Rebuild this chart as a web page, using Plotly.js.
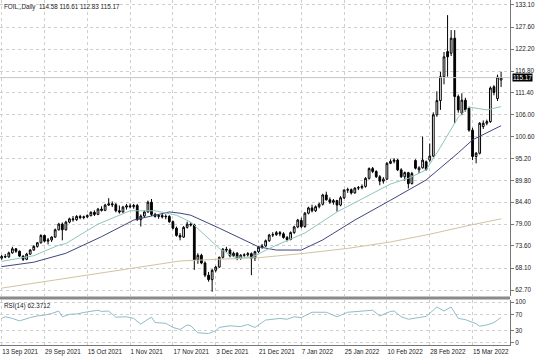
<!DOCTYPE html>
<html><head><meta charset="utf-8">
<script src="https://cdn.plot.ly/plotly-3.0.1.min.js"></script>
<style>html,body{margin:0;padding:0;background:#fff;}#chart{width:536px;height:357px;}</style>
</head><body><div id="chart"></div>
<script>
const symbolTitle = "FOIL,,Daily  114.58 116.61 112.83 115.17";
const rsiTitle = "RSI(14) 62.3712";
const lastPrice = 115.17;

const dateLabels = ["13 Sep 2021","29 Sep 2021","15 Oct 2021","1 Nov 2021","17 Nov 2021","3 Dec 2021","21 Dec 2021","7 Jan 2022","25 Jan 2022","10 Feb 2022","28 Feb 2022","15 Mar 2022"];
const dateLabelBars = [0,12,24,36,48,60,72,84,96,108,120,132];

const priceTicks = [133.10,127.60,122.20,116.80,111.40,106.00,100.60,95.20,89.80,84.40,79.00,73.60,68.10,62.70];
const rsiTicks = [100,70,30,0];

const opens = [70.6,71.0,70.9,71.9,72.9,72.3,71.1,70.3,71.6,72.6,73.5,74.4,76.2,74.8,75.1,75.8,77.6,79.0,77.6,79.5,
80.3,80.1,80.9,80.6,80.8,81.1,81.9,81.4,82.7,82.4,83.7,84.0,83.8,82.3,82.0,83.2,83.5,83.3,83.6,80.1,
81.0,82.0,84.4,81.4,80.9,81.1,80.8,80.9,79.6,78.0,76.2,75.8,78.2,79.0,78.8,70.2,71.3,69.4,66.4,65.3,
67.6,68.4,70.8,72.8,72.6,71.2,71.8,70.5,71.3,71.4,71.7,70.6,72.2,73.3,73.6,74.9,76.3,76.4,76.9,76.6,
75.7,75.2,76.9,78.3,79.9,78.4,81.7,83.0,82.3,83.3,83.9,86.2,85.0,84.4,84.8,83.7,85.5,87.4,87.5,86.7,
87.9,88.0,88.3,90.3,92.7,92.0,90.7,89.6,90.1,94.0,94.5,94.8,92.4,90.7,91.7,89.0,94.7,92.4,92.9,94.4,
94.8,95.8,106.0,109.5,115.4,121.6,121.2,124.9,110.5,106.4,109.6,107.6,102.2,95.7,96.5,103.1,103.9,104.3,112.9,110.0,
114.58];
const highs = [71.4,71.6,72.2,73.4,73.1,72.5,71.3,71.9,72.8,73.8,74.6,76.5,76.4,75.6,76.0,77.9,79.3,79.4,79.8,80.6,
81.0,81.2,81.3,81.1,81.4,82.2,82.4,83.0,83.4,84.0,85.4,84.6,84.2,83.6,83.5,84.0,84.1,84.0,84.0,81.4,
82.4,84.8,85.2,81.8,81.5,81.6,81.4,81.2,79.9,78.4,76.8,78.5,79.6,79.4,79.1,71.8,71.7,69.8,67.2,67.9,
68.7,71.0,73.1,73.4,73.0,72.2,72.1,71.6,71.8,72.1,72.0,72.4,73.6,74.1,75.2,76.6,77.0,77.3,77.3,77.0,
76.1,77.2,78.6,80.3,80.6,82.0,83.3,83.8,83.6,84.3,86.5,87.0,85.6,85.2,85.0,85.9,87.6,88.0,87.8,88.1,
88.4,88.8,90.6,93.0,93.1,92.3,91.1,90.6,94.3,95.0,95.3,95.1,92.8,92.0,91.9,91.9,95.0,93.3,100.6,94.7,
98.9,106.6,111.8,116.6,121.5,130.6,126.9,126.9,111.0,111.3,110.2,108.0,102.8,96.8,104.2,104.6,104.8,113.0,113.3,115.9,
116.61];
const lows = [70.2,70.6,70.7,71.7,71.9,70.9,69.9,70.1,71.4,72.4,73.2,74.2,74.5,74.0,74.6,75.6,77.4,75.0,77.4,79.2,
79.6,79.8,80.2,80.2,80.5,80.9,81.0,81.2,82.1,82.2,83.5,83.2,81.9,81.6,81.8,82.6,82.9,82.8,79.8,78.4,
80.6,81.8,81.0,80.6,80.3,80.4,80.2,79.3,77.7,75.9,75.0,75.6,77.9,78.4,67.7,69.2,69.1,65.9,64.8,62.3,
67.1,68.2,70.5,72.1,70.8,70.9,70.1,70.2,70.9,71.0,66.4,69.9,71.9,72.9,73.4,74.6,75.8,76.1,76.0,75.4,
74.7,75.0,76.6,78.0,78.0,78.1,81.4,81.9,82.0,82.9,83.6,84.8,84.0,83.8,82.1,83.4,85.2,86.7,86.3,86.5,
87.4,87.6,88.0,90.0,91.6,90.4,88.6,89.0,89.9,93.8,94.0,92.1,90.4,89.7,87.8,88.8,92.5,91.6,92.7,92.2,
94.4,95.5,105.5,107.2,113.5,115.4,120.5,103.9,106.5,105.9,106.8,101.8,94.8,94.0,96.2,102.5,103.4,104.0,110.8,109.4,
112.83];
const closes = [71.0,70.9,71.9,72.9,72.3,71.1,70.3,71.6,72.6,73.5,74.4,76.2,74.8,75.1,75.8,77.6,79.0,77.6,79.5,80.3,
80.1,80.9,80.6,80.8,81.1,81.9,81.4,82.7,82.4,83.7,84.0,83.8,82.3,82.0,83.2,83.5,83.3,83.6,80.1,81.0,
82.0,84.4,81.4,80.9,81.1,80.8,80.9,79.6,78.0,76.2,75.8,78.2,79.0,78.8,70.2,71.3,69.4,66.4,65.3,67.6,
68.4,70.8,72.8,72.6,71.2,71.8,70.5,71.3,71.4,71.7,70.6,72.2,73.3,73.6,74.9,76.3,76.4,76.9,76.6,75.7,
75.2,76.9,78.3,80.0,78.4,81.7,83.0,82.3,83.3,83.9,86.2,85.0,84.4,84.8,83.7,85.5,87.4,87.5,86.7,87.9,
88.0,88.3,90.3,92.7,92.0,90.7,89.6,90.1,94.0,94.5,94.8,92.4,90.7,91.7,89.0,91.5,92.8,92.9,94.8,92.5,
95.8,106.0,109.5,115.4,120.3,120.3,124.9,110.5,107.2,109.6,107.2,102.2,95.7,96.5,103.9,103.9,104.3,112.6,111.5,115.3,
115.17];

const fastMaBars = [0,9,16,18,27,36,43,49,53,57,61,65,70,76,85,94,104,109,114,119,123,128,131,136,140];
const fastMaValues = [69.8,71.2,73.8,74.2,79.0,82.3,82.3,81.2,79.5,76.3,73.0,70.9,70.8,73.4,76.8,82.0,86.7,88.9,90.3,92.4,98.0,105.4,107.9,107.2,108.0];

const slowMaBars = [0,9,18,28,37,47,50,53,61,72,77,84,90,99,109,119,128,132,140];
const slowMaValues = [68.5,69.6,71.8,75.9,80.0,82.0,81.7,81.2,78.0,73.4,72.6,72.6,75.1,80.0,84.9,89.9,96.6,99.8,103.3];

const longMaBars = [0,17,35,50,60,72,85,97,109,120,130,140];
const longMaValues = [63.2,65.5,67.8,69.9,70.3,70.7,71.8,73.0,74.6,76.5,78.5,80.3];

const rsiBars = [0,1,3,5,8,10,12,14,16,17,19,21,24,27,28,30,32,35,37,39,41,42,43,46,48,50,52,53,55,58,60,61,64,67,69,71,74,78,80,82,84,87,91,94,97,99,101,104,106,109,110,112,114,117,119,121,122,124,126,128,130,133,134,136,138,139,140];
const rsiValues = [60,64,60,54,62,66,68,72,78,64,70,71,76,80,77,78,63,64,60,46,58,63,50,48,38,33,44,42,25,23,30,38,42,40,45,38,56,60,58,64,62,75,75,64,75,76,77,80,66,77,78,64,58,62,65,80,88,78,88,60,57,47,41,44,50,56,62.37];

const bars = closes.map((_, i) => i);
const FONT = "Liberation Sans, Arial, sans-serif";
const TXT = "#222";

const traces = [
  {type:'scatter', mode:'lines', x:longMaBars, y:longMaValues, line:{color:'#d2c3a2', width:1}, xaxis:'x', yaxis:'y', hoverinfo:'skip'},
  {type:'scatter', mode:'lines', x:slowMaBars, y:slowMaValues, line:{color:'#41457e', width:1}, xaxis:'x', yaxis:'y', hoverinfo:'skip'},
  {type:'scatter', mode:'lines', x:fastMaBars, y:fastMaValues, line:{color:'#8cc6bd', width:1}, xaxis:'x', yaxis:'y', hoverinfo:'skip'},
  {type:'candlestick', x:bars, open:opens, high:highs, low:lows, close:closes, xaxis:'x', yaxis:'y',
   increasing:{line:{color:'#000', width:1}, fillcolor:'#fff'},
   decreasing:{line:{color:'#000', width:1}, fillcolor:'#000'},
   whiskerwidth:0, hoverinfo:'skip'},
  {type:'scatter', mode:'lines', x:rsiBars, y:rsiValues, line:{color:'#8fbccb', width:1}, xaxis:'x', yaxis:'y2', hoverinfo:'skip'}
];

const layout = {
  width:536, height:357,
  margin:{l:0, r:26, t:0, b:12, pad:0},
  paper_bgcolor:'#fff', plot_bgcolor:'#fff',
  showlegend:false,
  font:{family:FONT, size:6.3, color:TXT},
  xaxis:{domain:[0,1], anchor:'y2', range:[-0.47,142.5], rangeslider:{visible:false},
    tickmode:'array', tickvals:dateLabelBars, ticktext:dateLabels, ticklabelposition:'outside right',
    tickangle:0, automargin:false,
    ticks:'', showgrid:true, gridcolor:'#cfcfcf', griddash:'dot', gridwidth:1, zeroline:false,
    showline:true, linecolor:'#777', linewidth:1, tickfont:{family:FONT, size:6.3, color:TXT}, fixedrange:true},
  yaxis:{domain:[0.142,1], anchor:'x', side:'right', range:[61.25,134.33], automargin:false,
    tickmode:'array', tickvals:priceTicks, ticktext:priceTicks.map(v=>v.toFixed(2)),
    ticks:'outside', ticklen:3, tickcolor:'#777', showgrid:true, gridcolor:'#cfcfcf', griddash:'dot', zeroline:false,
    showline:true, linecolor:'#777', linewidth:1, tickfont:{family:FONT, size:6.3, color:TXT}, fixedrange:true},
  yaxis2:{domain:[0,0.1304], anchor:'x', side:'right', range:[-4.9,104.9], automargin:false,
    tickmode:'array', tickvals:rsiTicks, ticktext:rsiTicks.map(String),
    ticks:'outside', ticklen:3, tickcolor:'#777', showgrid:true, gridcolor:'#cfcfcf', griddash:'dot', zeroline:false,
    showline:true, linecolor:'#777', linewidth:1, tickfont:{family:FONT, size:6.3, color:TXT}, fixedrange:true},
  shapes:[
    {type:'line', xref:'paper', yref:'y', x0:0, x1:1, y0:lastPrice, y1:lastPrice, line:{color:'#c4c4c4', width:1}},
    {type:'line', xref:'paper', yref:'paper', x0:0, x1:1, y0:0.1362, y1:0.1362, line:{color:'#8a8a8a', width:3}}
  ],
  annotations:[
    {xref:'paper', yref:'paper', x:0.004, y:1, xanchor:'left', yanchor:'top', yshift:-1, showarrow:false,
     text:symbolTitle, font:{family:FONT, size:6.3, color:TXT}},
    {xref:'paper', yref:'paper', x:0.004, y:0.1304, xanchor:'left', yanchor:'top', showarrow:false,
     text:rsiTitle, font:{family:FONT, size:6.3, color:TXT}},
    {xref:'paper', yref:'y', x:1, y:lastPrice, xanchor:'left', yanchor:'middle', xshift:2, showarrow:false,
     text:lastPrice.toFixed(2), bgcolor:'#000', borderpad:0, font:{family:FONT, size:6.3, color:'#fff'}}
  ]
};

Plotly.newPlot('chart', traces, layout, {staticPlot:true, displayModeBar:false});
</script>
</body></html>
